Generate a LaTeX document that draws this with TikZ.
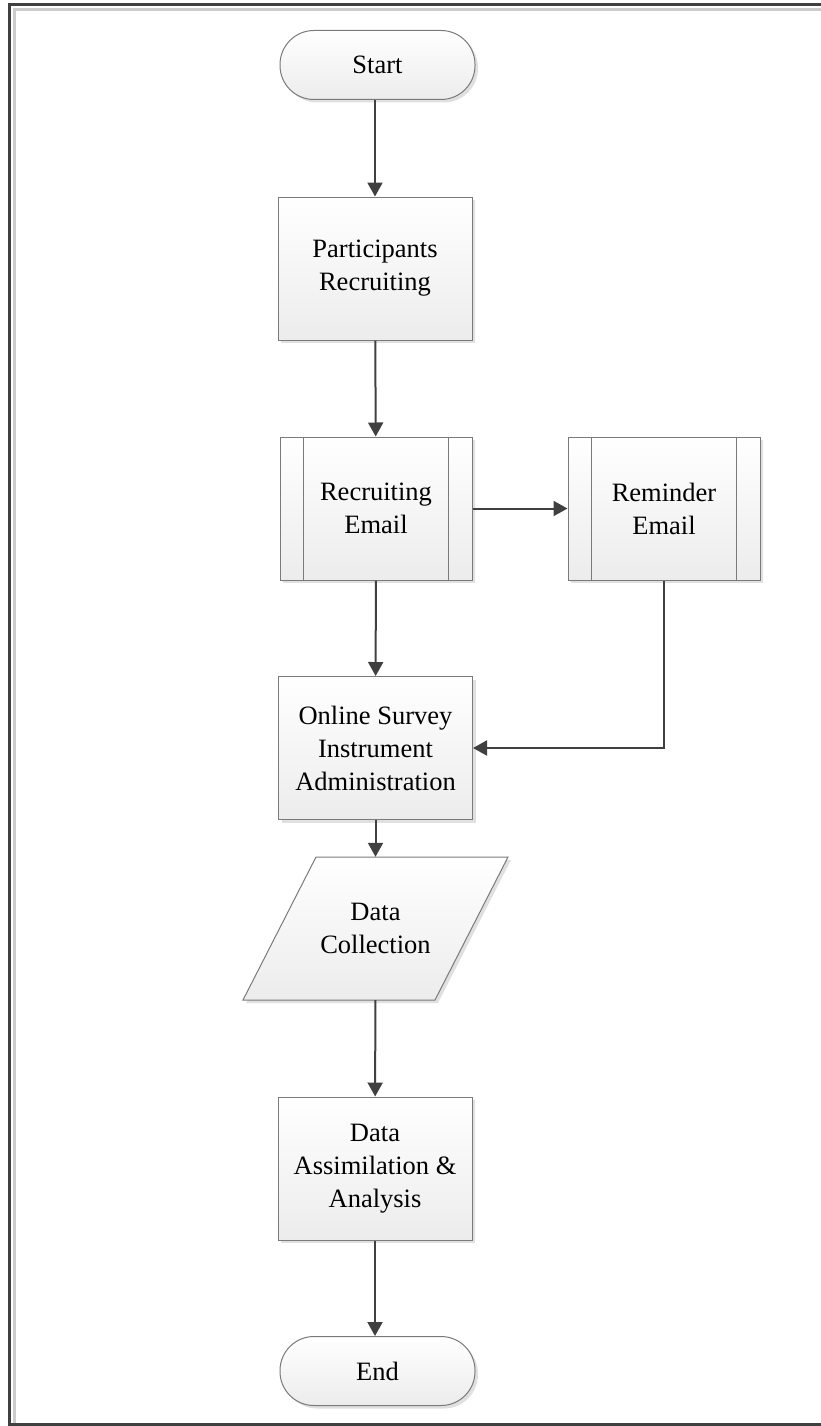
\documentclass[tikz,border=0pt]{standalone}
\usepackage{fontspec}
\setmainfont{Liberation Serif}
\usetikzlibrary{arrows.meta,shadows}
\definecolor{edgec}{HTML}{7A7A7A}
\definecolor{arrc}{HTML}{404040}
\definecolor{botc}{HTML}{ECECEC}
\begin{document}
\begin{tikzpicture}[x=1pt,y=-1pt,
  font=\fontsize{26.5}{33}\selectfont,
  boxbase/.style={draw=edgec,line width=1pt,top color=white,bottom color=botc,
     drop shadow={shadow xshift=3pt,shadow yshift=-3pt,fill=black,opacity=0.12},
     align=center,inner sep=0pt},
  procbox/.style={boxbase,rectangle,minimum width=194pt,minimum height=143pt},
  termbox/.style={boxbase,rectangle,rounded corners=34pt,minimum width=195pt,minimum height=69pt},
  predbox/.style={procbox,minimum width=192pt},
  innerline/.style={draw=edgec,line width=1pt},
  textonly/.style={rectangle,align=center,inner sep=0pt,minimum width=192pt,minimum height=143pt},
  flow/.style={draw=arrc,line width=2pt,-{Triangle[length=14pt,width=15pt]}},
  frameline/.style={draw=arrc,line width=3pt}]
\useasboundingbox (0,0) rectangle (821,1426);
% frame
\draw[draw=black!20,line width=3pt] (14,1426) -- (14,9.5) -- (821,9.5);
\draw[frameline] (9.5,1426) -- (9.5,4.5) -- (821,4.5);
\draw[frameline] (9.5,1424.5) -- (821,1424.5);

\node[termbox] (start) at (377.5,65) {Start};
\node[procbox] (part) at (375,268.5) {Participants\\Recruiting};
\node[predbox] (remail) at (376,508.5) {Recruiting\\Email};
\draw[innerline] ([xshift=24pt]remail.north west) -- ([xshift=24pt]remail.south west)
  ([xshift=-24pt]remail.north east) -- ([xshift=-24pt]remail.south east);
\node[predbox] (remind) at (664,508.5) {Reminder\\Email};
\draw[innerline] ([xshift=24pt]remind.north west) -- ([xshift=24pt]remind.south west)
  ([xshift=-24pt]remind.north east) -- ([xshift=-24pt]remind.south east);
\node[procbox] (online) at (375.5,748) {Online Survey\\Instrument\\Administration};
% parallelogram
\path[boxbase] (316,857) -- (508,857) -- (435,1000) -- (243,1000) -- cycle;
\node[textonly] (data) at (375.5,928.5) {Data\\Collection};
\node[procbox] (assim) at (375,1168.5) {Data\\Assimilation \&\\Analysis};
\node[termbox] (end) at (377.5,1371) {End};

\draw[flow] (start.south -| part.north) -- (part.north);
\draw[flow] (part) -- (remail);
\draw[flow] (remail) -- (remind);
\draw[flow] (remail) -- (online);
\draw[flow] (remind.south) |- (online.east);
\draw[flow] (online) -- (data);
\draw[flow] (data) -- (assim);
\draw[flow] (assim.south) -- (assim.south |- end.north);
\end{tikzpicture}
\end{document}
